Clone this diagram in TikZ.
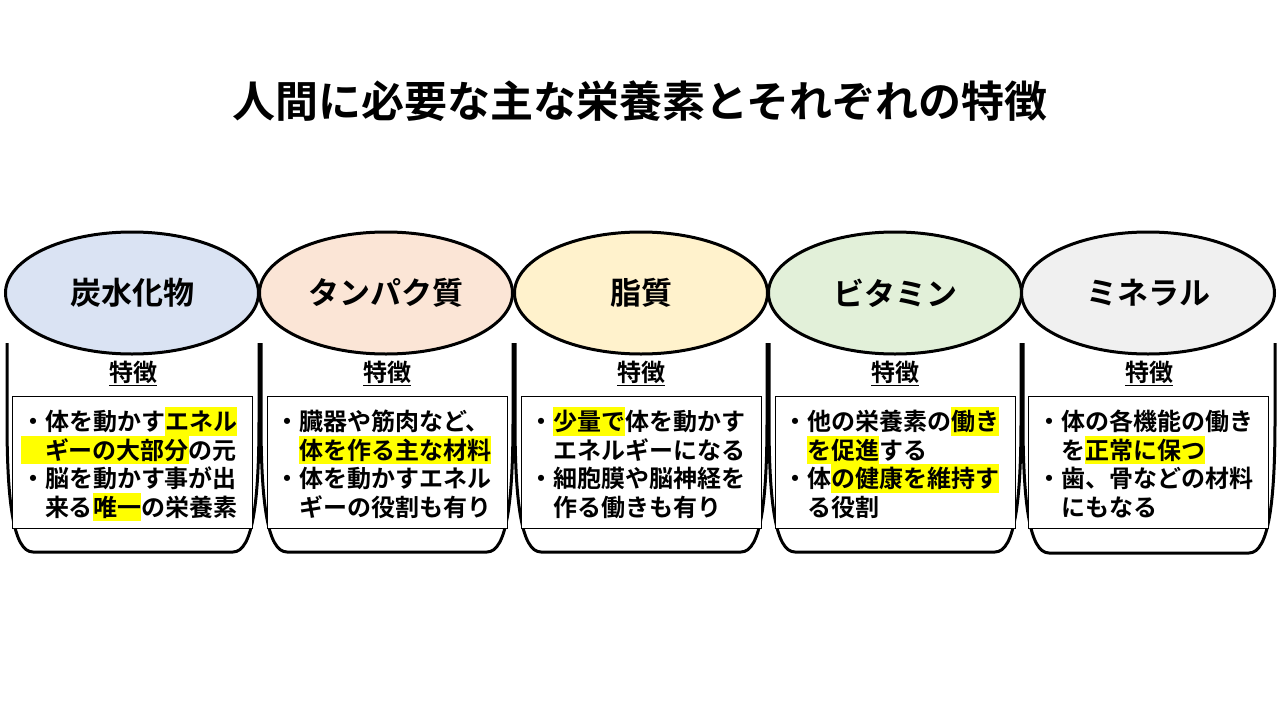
\documentclass[tikz,border=0pt]{standalone}
\usepackage{fontspec}
\setmainfont{Noto Sans CJK JP}[BoldFont={Noto Sans CJK JP Bold}]
\usepackage{tikz}
\usetikzlibrary{shapes.geometric,positioning}

\definecolor{carbblue}{HTML}{DAE3F3}
\definecolor{protpeach}{HTML}{FBE5D6}
\definecolor{fatcream}{HTML}{FFF2CC}
\definecolor{vitgreen}{HTML}{E2F0D9}
\definecolor{minegrey}{HTML}{F0F0F0}
\definecolor{hlyellow}{HTML}{FFFF00}

\newcommand{\hlstrut}{\rule[-5pt]{0pt}{28.5pt}}
\newcommand{\hlt}[1]{{\setlength{\fboxsep}{0pt}\colorbox{hlyellow}{\hlstrut#1}}}
\newcommand{\bul}{\hlstrut ・}
\newcommand{\ind}{\hlstrut\hspace*{1em}}
\newcommand{\featul}[1]{\setbox0=\hbox{#1}\rlap{\rule[-4.5pt]{\wd0}{1.8pt}}\box0}

\begin{document}
\begin{tikzpicture}[x=1pt, y=-1pt,
  nutrient/.style={ellipse, draw, line width=3pt, minimum width=253pt, minimum height=122pt,
    font=\fontsize{31}{36}\selectfont\bfseries},
  cupline/.style={line width=3pt},
  featbox/.style={rectangle, draw, line width=1pt, fill=white, minimum width=240pt, minimum height=132pt},
  feattext/.style={align=left, text width=224pt, inner sep=0pt,
    font=\fontsize{24}{28.5}\selectfont\bfseries},
  feathead/.style={font=\fontsize{24}{28}\selectfont\bfseries}]
\useasboundingbox (0,0) rectangle (1280,720);

% Title
\node[font=\fontsize{43}{50}\selectfont\bfseries] (title) at (640,101) {人間に必要な主な栄養素とそれぞれの特徴};

% Cups
\draw[cupline, shift={(133,0)}] (-126,343) -- (-126,420) .. controls (-126,500) and (-120,552) .. (-100,552) -- (100,552) .. controls (120,552) and (126,500) .. (126,420) -- (126,343);
\draw[cupline, shift={(387,0)}] (-126,343) -- (-126,420) .. controls (-126,500) and (-120,552) .. (-100,552) -- (100,552) .. controls (120,552) and (126,500) .. (126,420) -- (126,343);
\draw[cupline, shift={(641,0)}] (-126,343) -- (-126,420) .. controls (-126,500) and (-120,552) .. (-100,552) -- (100,552) .. controls (120,552) and (126,500) .. (126,420) -- (126,343);
\draw[cupline, shift={(895,0)}] (-126,343) -- (-126,420) .. controls (-126,500) and (-120,552) .. (-100,552) -- (100,552) .. controls (120,552) and (126,500) .. (126,420) -- (126,343);
\draw[cupline, shift={(1149,0)}] (-126,343) -- (-126,420) .. controls (-126,500) and (-120,553) .. (-100,553) -- (100,553) .. controls (120,553) and (126,500) .. (126,420) -- (126,343);

% Nutrients
\node[nutrient, fill=carbblue] (carb) at (132,293) {炭水化物};
\node[nutrient, fill=protpeach] (prot) at (386,293) {タンパク質};
\node[nutrient, fill=fatcream] (fat) at (641,293) {脂質};
\node[nutrient, fill=vitgreen] (vit) at (895,293) {ビタミン};
\node[nutrient, fill=minegrey] (mine) at (1148,293) {ミネラル};

% Feature headings
\node[feathead] (carbhead) at (133,374) {\featul{特徴}};
\node[feathead] (prothead) at (387,374) {\featul{特徴}};
\node[feathead] (fathead) at (641,374) {\featul{特徴}};
\node[feathead] (vithead) at (895,374) {\featul{特徴}};
\node[feathead] (minehead) at (1149,374) {\featul{特徴}};

% Feature boxes
\node[featbox] (carbbox) at (132,462) {};
\node[featbox] (protbox) at (387,462) {};
\node[featbox] (fatbox) at (641,462) {};
\node[featbox] (vitbox) at (895,462) {};
\node[featbox] (minebox) at (1148,462) {};

% Feature texts
\node[feattext] (carbtext) at (133,464) {\bul 体を動かす\hlt{エネル}\\\hlt{\hspace*{1em}ギーの大部分}の元\\\bul 脳を動かす事が出\\\ind 来る\hlt{唯一}の栄養素};
\node[feattext] (prottext) at (387,464) {\bul 臓器や筋肉など、\\\ind\hlt{体を作る主な材料}\\\bul 体を動かすエネル\\\ind ギーの役割も有り};
\node[feattext] (fattext) at (641,464) {\bul\hlt{少量で}体を動かす\\\ind エネルギーになる\\\bul 細胞膜や脳神経を\\\ind 作る働きも有り};
\node[feattext] (vittext) at (895,464) {\bul 他の栄養素の\hlt{働き}\\\ind\hlt{を促進}する\\\bul 体\hlt{の健康を維持す}\\\ind る役割};
\node[feattext] (minetext) at (1149,464) {\bul 体の各機能の働き\\\ind を\hlt{正常に保つ}\\\bul 歯、骨などの材料\\\ind にもなる};
\end{tikzpicture}
\end{document}
